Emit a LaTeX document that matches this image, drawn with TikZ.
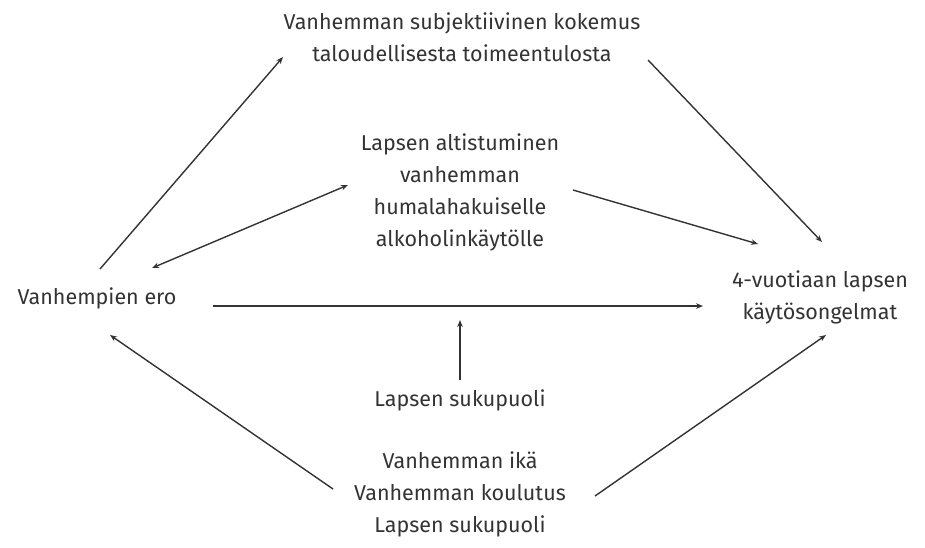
\documentclass[tikz,border=0pt]{standalone}
\usepackage{fontspec}
\setmainfont{Fira Sans}
\usetikzlibrary{arrows.meta,calc}
\definecolor{ink}{HTML}{333333}
\begin{document}
\begin{tikzpicture}[x=1pt,y=-1pt,
  lbl/.style={align=center,text=ink,font=\fontsize{21.5}{32}\selectfont,inner sep=0pt},
  arr/.style={draw=ink,line width=1.4pt,-{Stealth[length=7pt,width=5.5pt]}},
  darr/.style={draw=ink,line width=1.4pt,{Stealth[length=7pt,width=5.5pt]}-{Stealth[length=7pt,width=5.5pt]}}]
\useasboundingbox (0,0) rectangle (925,547);
\node[lbl] (ero) at (97,298) {Vanhempien ero};
\node[lbl] (top) at (462,37) {Vanhemman subjektiivinen kokemus\\taloudellisesta toimeentulosta};
\node[lbl] (mid) at (460,192) {Lapsen altistuminen\\vanhemman\\humalahakuiselle\\alkoholinkäytölle};
\node[lbl] (out) at (820,297) {4-vuotiaan lapsen\\käytösongelmat};
\node[lbl] (sex) at (460,400) {Lapsen sukupuoli};
\node[lbl] (cov) at (460,494) {Vanhemman ikä\\Vanhemman koulutus\\Lapsen sukupuoli};
\draw[arr] ($(ero)+(3,-29)$) -- ($(top)+(-179,20)$);
\draw[arr] ($(top)+(186,23)$) -- ($(out)+(2,-55)$);
\draw[darr] ($(ero)+(55,-30)$) -- ($(mid)+(-112,-7)$);
\draw[arr] ($(mid)+(113,-2)$) -- ($(out)+(-62,-53)$);
\draw[arr] ($(ero)+(116,8)$) -- ($(out)+(-117,9)$);
\draw[arr] ($(sex)+(0,-20)$) -- ($(sex)+(0,-80)$);
\draw[arr] ($(cov)+(-127,-5)$) -- ($(ero)+(13,37)$);
\draw[arr] ($(cov)+(135,2)$) -- ($(out)+(6,38)$);
\end{tikzpicture}
\end{document}
